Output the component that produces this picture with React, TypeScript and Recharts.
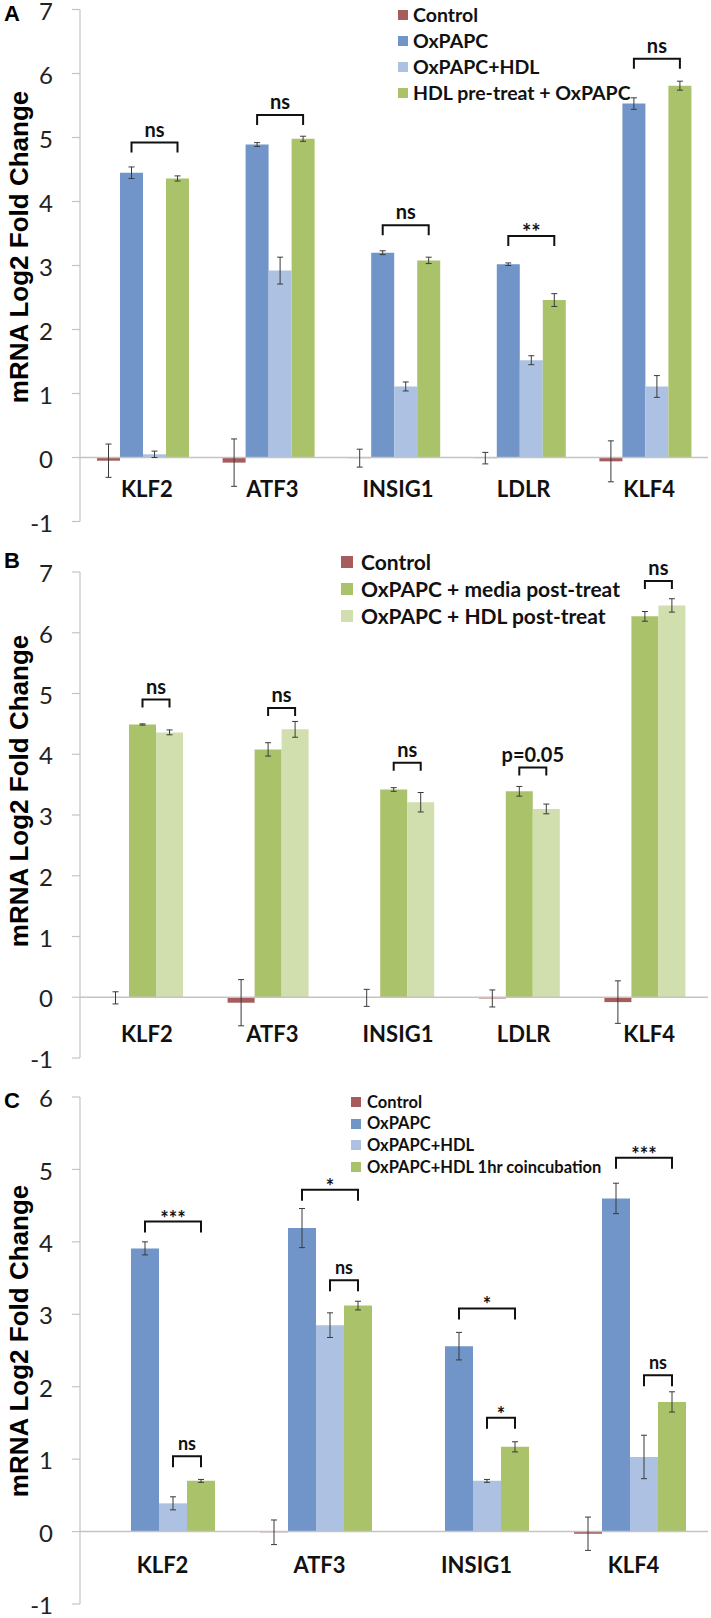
import React from 'react';
import { BarChart, Bar, XAxis, YAxis, ReferenceLine, ErrorBar, LabelList, Legend } from 'recharts';

const FONT = "Lato, 'Open Sans', sans-serif";
const LABEL_FONT = "'Liberation Sans', Arial, sans-serif";

// ---------- colours ----------
const C_CONTROL = '#A65C5C';
const C_OX = '#7195C8';
const C_OXHDL = '#ADC2E3';
const C_GREEN = '#AAC36B';
const C_LIGHTGREEN = '#D0DFAD';

// ---------- Panel A ----------
const categoriesA = ['KLF2', 'ATF3', 'INSIG1', 'LDLR', 'KLF4'];
const controlA = [-0.05, -0.08, -0.01, -0.01, -0.06];
const controlAErr = [0.26, 0.37, 0.14, 0.09, 0.32];
const oxpapcA = [4.45, 4.89, 3.2, 3.02, 5.53];
const oxpapcAErr = [0.09, 0.03, 0.03, 0.02, 0.09];
const oxHdlA = [0.05, 2.92, 1.11, 1.52, 1.11];
const oxHdlAErr = [0.05, 0.21, 0.07, 0.07, 0.17];
const preA = [4.36, 4.98, 3.08, 2.46, 5.81];
const preAErr = [0.04, 0.04, 0.05, 0.1, 0.07];
const ticksA = [-1, 0, 1, 2, 3, 4, 5, 6, 7];
const bracketsA = [
  { cat: 'KLF2', from: 'oxpapc', to: 'pre', level: 4.92, text: 'ns' },
  { cat: 'ATF3', from: 'oxpapc', to: 'pre', level: 5.35, text: 'ns' },
  { cat: 'INSIG1', from: 'oxpapc', to: 'pre', level: 3.63, text: 'ns' },
  { cat: 'LDLR', from: 'oxpapc', to: 'pre', level: 3.46, text: '**' },
  { cat: 'KLF4', from: 'oxpapc', to: 'pre', level: 6.23, text: 'ns' },
];

// ---------- Panel B ----------
const categoriesB = ['KLF2', 'ATF3', 'INSIG1', 'LDLR', 'KLF4'];
const controlB = [-0.01, -0.09, -0.01, -0.02, -0.08];
const controlBErr = [0.1, 0.38, 0.14, 0.14, 0.35];
const mediaB = [4.49, 4.08, 3.42, 3.39, 6.27];
const mediaBErr = [0.01, 0.11, 0.03, 0.08, 0.08];
const hdlPostB = [4.36, 4.41, 3.21, 3.1, 6.45];
const hdlPostBErr = [0.04, 0.13, 0.16, 0.08, 0.11];
const ticksB = [-1, 0, 1, 2, 3, 4, 5, 6, 7];
const bracketsB = [
  { cat: 'KLF2', from: 'media', to: 'hdlPost', level: 4.9, text: 'ns' },
  { cat: 'ATF3', from: 'media', to: 'hdlPost', level: 4.76, text: 'ns' },
  { cat: 'INSIG1', from: 'media', to: 'hdlPost', level: 3.86, text: 'ns' },
  { cat: 'LDLR', from: 'media', to: 'hdlPost', level: 3.78, text: 'p=0.05' },
  { cat: 'KLF4', from: 'media', to: 'hdlPost', level: 6.85, text: 'ns' },
];

// ---------- Panel C ----------
const categoriesC = ['KLF2', 'ATF3', 'INSIG1', 'KLF4'];
const controlC = [0.0, -0.01, 0.0, -0.03];
const controlCErr = [0.1, 0.17, 0.07, 0.23];
const oxpapcC = [3.91, 4.19, 2.56, 4.6];
const oxpapcCErr = [0.09, 0.27, 0.19, 0.21];
const oxHdlC = [0.39, 2.85, 0.7, 1.03];
const oxHdlCErr = [0.09, 0.17, 0.02, 0.3];
const coincC = [0.7, 3.12, 1.17, 1.79];
const coincCErr = [0.02, 0.06, 0.07, 0.14];
const ticksC = [-1, 0, 1, 2, 3, 4, 5, 6];
const bracketsC = [
  { cat: 'KLF2', from: 'oxpapc', to: 'coinc', level: 4.28, text: '***' },
  { cat: 'KLF2', from: 'oxHdl', to: 'coinc', level: 1.04, text: 'ns' },
  { cat: 'ATF3', from: 'oxpapc', to: 'coinc', level: 4.72, text: '*' },
  { cat: 'ATF3', from: 'oxHdl', to: 'coinc', level: 3.47, text: 'ns' },
  { cat: 'INSIG1', from: 'oxpapc', to: 'coinc', level: 3.08, text: '*' },
  { cat: 'INSIG1', from: 'oxHdl', to: 'coinc', level: 1.57, text: '*' },
  { cat: 'KLF4', from: 'oxpapc', to: 'coinc', level: 5.16, text: '***' },
  { cat: 'KLF4', from: 'oxHdl', to: 'coinc', level: 2.16, text: 'ns' },
];

type Series = { key: string; name: string; color: string; values: number[]; errors: number[] };
type Bracket = { cat: string; from: string; to: string; level: number; text: string };

const seriesA: Series[] = [
  { key: 'control', name: 'Control', color: C_CONTROL, values: controlA, errors: controlAErr },
  { key: 'oxpapc', name: 'OxPAPC', color: C_OX, values: oxpapcA, errors: oxpapcAErr },
  { key: 'oxHdl', name: 'OxPAPC+HDL', color: C_OXHDL, values: oxHdlA, errors: oxHdlAErr },
  { key: 'pre', name: 'HDL pre-treat + OxPAPC', color: C_GREEN, values: preA, errors: preAErr },
];
const seriesB: Series[] = [
  { key: 'control', name: 'Control', color: C_CONTROL, values: controlB, errors: controlBErr },
  { key: 'media', name: 'OxPAPC + media post-treat', color: C_GREEN, values: mediaB, errors: mediaBErr },
  { key: 'hdlPost', name: 'OxPAPC + HDL post-treat', color: C_LIGHTGREEN, values: hdlPostB, errors: hdlPostBErr },
];
const seriesC: Series[] = [
  { key: 'control', name: 'Control', color: C_CONTROL, values: controlC, errors: controlCErr },
  { key: 'oxpapc', name: 'OxPAPC', color: C_OX, values: oxpapcC, errors: oxpapcCErr },
  { key: 'oxHdl', name: 'OxPAPC+HDL', color: C_OXHDL, values: oxHdlC, errors: oxHdlCErr },
  { key: 'coinc', name: 'OxPAPC+HDL 1hr coincubation', color: C_GREEN, values: coincC, errors: coincCErr },
];

function buildRows(categories: string[], series: Series[]) {
  return categories.map((c, i) => {
    const row: any = { cat: c };
    series.forEach((s) => {
      row[s.key] = s.values[i];
      row[s.key + 'Err'] = s.errors[i];
    });
    return row;
  });
}

function bracketContent(
  brackets: Bracket[],
  categories: string[],
  series: Series[],
  fromKey: string,
  leg: number,
  fontSize: number
) {
  const order = series.map((s) => s.key);
  const vals = series.find((s) => s.key === fromKey)!.values;
  return (props: any) => {
    const idx = props.index;
    const list = brackets.filter((b) => b.from === fromKey && categories.indexOf(b.cat) === idx);
    if (!list.length) return null;
    const vb = props.viewBox || props;
    const x = Number(vb.x);
    const y = Number(vb.y);
    const w = Number(vb.width);
    const h = Number(vb.height);
    const v = vals[idx];
    const ppu = Math.abs(h) / Math.abs(v);
    const zeroY = h >= 0 ? y + h : y;
    return (
      <g>
        {list.map((b, i) => {
          const span = order.indexOf(b.to) - order.indexOf(b.from);
          const x1 = x + w / 2;
          const x2 = x1 + span * w;
          const ly = zeroY - b.level * ppu;
          const isStar = /^\*+$/.test(b.text);
          return (
            <g key={i}>
              <path
                d={`M${x1},${ly + leg} L${x1},${ly} L${x2},${ly} L${x2},${ly + leg}`}
                fill="none"
                stroke="#111"
                strokeWidth={2}
              />
              <text
                x={(x1 + x2) / 2}
                y={isStar ? ly + 4 : ly - 6}
                textAnchor="middle"
                fontFamily={FONT}
                fontWeight={700}
                fontSize={isStar ? fontSize + 2 : fontSize}
                fill="#111"
              >
                {b.text}
              </text>
            </g>
          );
        })}
      </g>
    );
  };
}

type LegendCfg = { left: number; top: number; rowH: number; marker: number; gap: number; fontSize: number };

function LegendBox({ series, cfg }: { series: Series[]; cfg: LegendCfg }) {
  return (
    <div style={{ fontFamily: FONT, fontWeight: 700, fontSize: cfg.fontSize, color: '#111', lineHeight: 1 }}>
      {series.map((s) => (
        <div key={s.key} style={{ display: 'flex', alignItems: 'center', height: cfg.rowH, whiteSpace: 'nowrap' }}>
          <span
            style={{
              display: 'inline-block',
              flex: 'none',
              width: cfg.marker,
              height: cfg.marker,
              background: s.color,
              marginRight: cfg.gap,
            }}
          />
          <span>{s.name}</span>
        </div>
      ))}
    </div>
  );
}

type PanelProps = {
  top: number;
  height: number;
  marginTop: number;
  xAxisH: number;
  categories: string[];
  series: Series[];
  ticks: number[];
  brackets: Bracket[];
  barSize: number;
  catDy: number;
  legend: LegendCfg;
  letter: string;
  letterY: number;
  labelY: number;
  bracketLeg: number;
  bracketFont: number;
};

function Panel(p: PanelProps) {
  const rows = buildRows(p.categories, p.series);
  const fromKeys = Array.from(new Set(p.brackets.map((b) => b.from)));
  const YTick = (props: any) => (
    <text x={props.x} y={props.y} dy="0.42em" textAnchor="end" fontFamily={FONT} fontSize={24} fill="#222">
      {props.payload.value}
    </text>
  );
  const CatTick = (props: any) => (
    <text
      x={props.x + 4}
      y={props.y + p.catDy}
      textAnchor="middle"
      fontFamily={FONT}
      fontWeight={700}
      fontSize={22}
      fill="#111"
    >
      {props.payload.value}
    </text>
  );
  return (
    <div style={{ position: 'absolute', left: 0, top: p.top, width: 711, height: p.height }}>
      <BarChart
        width={711}
        height={p.height}
        data={rows}
        margin={{ top: p.marginTop, right: 3, bottom: 0, left: 0 }}
        barGap={0}
        barSize={p.barSize}
        style={{ overflow: 'visible' }}
      >
        <XAxis
          dataKey="cat"
          height={p.xAxisH}
          axisLine={false}
          tickLine={false}
          tickSize={0}
          tickMargin={0}
          interval={0}
          tick={CatTick}
        />
        <YAxis
          width={80}
          domain={[p.ticks[0], p.ticks[p.ticks.length - 1]]}
          ticks={p.ticks}
          interval={0}
          allowDataOverflow
          axisLine={{ stroke: '#c4c4c4', strokeWidth: 1.2 }}
          tickLine={{ stroke: '#c4c4c4', strokeWidth: 1.2 }}
          tickSize={8}
          tickMargin={19}
          tick={YTick}
        />
        <ReferenceLine y={0} stroke="#c4c4c4" strokeWidth={1.5} />
        <Legend
          layout="vertical"
          align="center"
          verticalAlign="middle"
          wrapperStyle={{ left: p.legend.left, top: p.legend.top, width: 330 }}
          content={() => <LegendBox series={p.series} cfg={p.legend} />}
        />
        {p.series.map((s) => (
          <Bar key={s.key} dataKey={s.key} name={s.name} fill={s.color} isAnimationActive={false}>
            <ErrorBar dataKey={s.key + 'Err'} width={3} stroke="#3a3a3a" strokeWidth={1} direction="y" />
            {fromKeys.includes(s.key) ? (
              <LabelList
                dataKey={s.key}
                content={bracketContent(p.brackets, p.categories, p.series, s.key, p.bracketLeg, p.bracketFont)}
              />
            ) : null}
          </Bar>
        ))}
      </BarChart>
      <svg
        width={711}
        height={p.height}
        style={{ position: 'absolute', left: 0, top: 0, pointerEvents: 'none', overflow: 'visible' }}
      >
        <text x={4} y={p.letterY} fontFamily={LABEL_FONT} fontWeight={700} fontSize={22} fill="#000">
          {p.letter}
        </text>
        <text
          transform={`rotate(-90, 28, ${p.labelY})`}
          x={28}
          y={p.labelY}
          textAnchor="middle"
          fontFamily={LABEL_FONT}
          fontWeight={700}
          fontSize={26}
          fill="#000"
        >
          mRNA Log2 Fold Change
        </text>
      </svg>
    </div>
  );
}

export default function App() {
  return (
    <div style={{ position: 'absolute', left: 0, top: 0, width: 711, height: 1618, background: '#fff' }}>
      <Panel
        top={0}
        height={545}
        marginTop={9.5}
        xAxisH={23.5}
        categories={categoriesA}
        series={seriesA}
        ticks={ticksA}
        brackets={bracketsA}
        barSize={23}
        catDy={-24.5}
        legend={{ left: 398, top: 2, rowH: 26, marker: 10, gap: 5, fontSize: 19.5 }}
        letter="A"
        letterY={21}
        labelY={247}
        bracketLeg={10}
        bracketFont={20}
      />
      <Panel
        top={525}
        height={555}
        marginTop={47}
        xAxisH={22}
        categories={categoriesB}
        series={seriesB}
        ticks={ticksB}
        brackets={bracketsB}
        barSize={27}
        catDy={-16}
        legend={{ left: 341, top: 23, rowH: 27, marker: 12, gap: 8, fontSize: 21 }}
        letter="B"
        letterY={43}
        labelY={266}
        bracketLeg={8}
        bracketFont={20}
      />
      <Panel
        top={1065}
        height={553}
        marginTop={32}
        xAxisH={14}
        categories={categoriesC}
        series={seriesC}
        ticks={ticksC}
        brackets={bracketsC}
        barSize={28}
        catDy={-31}
        legend={{ left: 351, top: 26, rowH: 21.7, marker: 10, gap: 6, fontSize: 16.5 }}
        letter="C"
        letterY={43}
        labelY={276}
        bracketLeg={11}
        bracketFont={18}
      />
    </div>
  );
}
